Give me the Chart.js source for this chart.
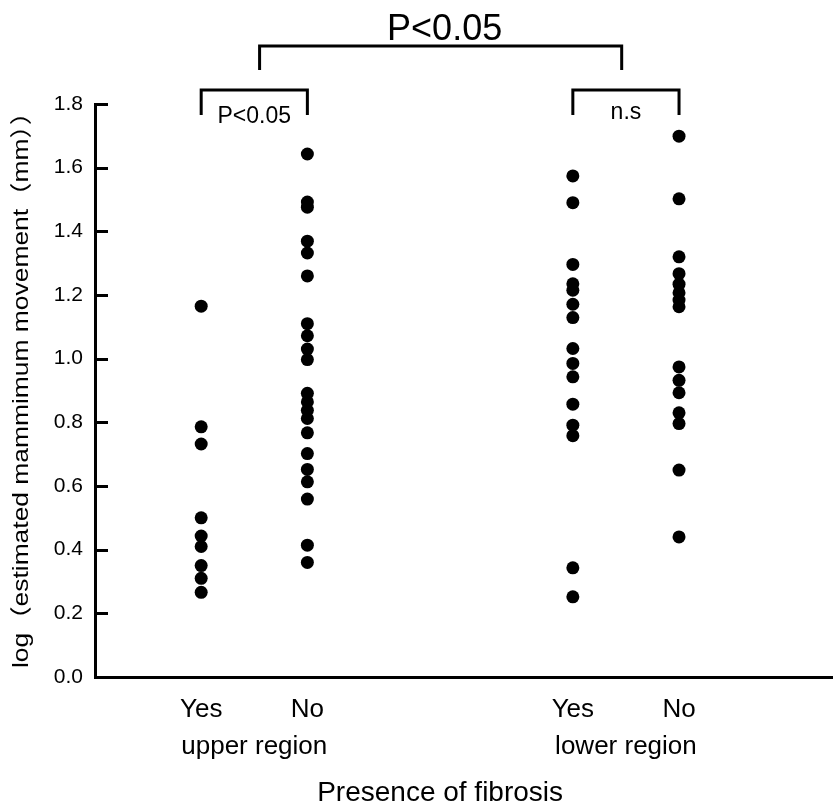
<!DOCTYPE html>
<html>
<head>
<meta charset="utf-8">
<title>Estimated maximum movement by fibrosis</title>
<script src="https://cdn.jsdelivr.net/npm/chart.js@4/dist/chart.umd.min.js"></script>
<style>
  html, body { margin: 0; padding: 0; background: #fff; overflow: hidden; }
  canvas { display: block; }
</style>
</head>
<body>
<canvas id="fibrosisChart" width="833" height="812"></canvas>
<script>
// Values (log of estimated maximum movement, mm)
const upperYes = [1.165, 0.786, 0.732, 0.50, 0.443, 0.41, 0.35, 0.31, 0.266];
const upperNo = [1.643, 1.492, 1.476, 1.369, 1.332, 1.26, 1.11, 1.072, 1.03, 0.997,
                 0.891, 0.864, 0.838, 0.812, 0.767, 0.702, 0.652, 0.613, 0.559, 0.414, 0.36];
const lowerYes = [1.574, 1.49, 1.296, 1.235, 1.215, 1.171, 1.129, 1.032, 0.985, 0.943,
                  0.857, 0.791, 0.758, 0.343, 0.252];
const lowerNo = [1.699, 1.502, 1.32, 1.267, 1.234, 1.207, 1.184, 1.163, 0.974, 0.932,
                 0.893, 0.83, 0.796, 0.65, 0.44];

// Where each group sits on the x axis, and the text under it
const groupPositions = [1, 2, 4.5, 5.5];
const groupLabels = ['Yes', 'No', 'Yes', 'No'];
const regionPositions = [1.5, 5];
const regionLabels = ['upper region', 'lower region'];

// y axis ticks
const yTicks = [0, 0.2, 0.4, 0.6, 0.8, 1.0, 1.2, 1.4, 1.6, 1.8];

// Significance brackets between groups (x values on the axis)
const comparisons = [
    { from: 1, to: 2, label: 'P<0.05', big: false },
    { from: 4.5, to: 5.5, label: 'n.s', big: false },
    { from: 1.55, to: 4.96, label: 'P<0.05', big: true }
];

const xTitle = 'Presence of fibrosis';
const yTitle = 'log（estimated mammimum movement（mm））';

const FONT = '"Liberation Sans", Arial, "Noto Sans CJK JP", sans-serif';

function toPoints(xValue, values) {
    return values.map(v => ({ x: xValue, y: v }));
}

const allSeries = [upperYes, upperNo, lowerYes, lowerNo];

// Inward tick marks on the y axis
const innerTicks = {
    id: 'innerTicks',
    afterDraw(chart) {
        const ctx = chart.ctx;
        const y = chart.scales.y;
        const left = chart.chartArea.left;
        ctx.save();
        ctx.strokeStyle = '#000';
        ctx.lineWidth = 3;
        yTicks.forEach(t => {
            const py = Math.round(y.getPixelForValue(t)) + 0.5;
            ctx.beginPath();
            ctx.moveTo(left, py);
            ctx.lineTo(left + 13, py);
            ctx.stroke();
        });
        ctx.restore();
    }
};

// Brackets with p-value labels, and both axis titles
const brackets = {
    id: 'brackets',
    afterDraw(chart) {
        const ctx = chart.ctx;
        const x = chart.scales.x;
        const y = chart.scales.y;
        const top = chart.chartArea.top;
        ctx.save();
        ctx.strokeStyle = '#000';
        ctx.fillStyle = '#000';
        ctx.lineWidth = 3;
        ctx.lineCap = 'butt';
        ctx.textAlign = 'center';
        ctx.textBaseline = 'middle';

        comparisons.forEach(c => {
            const x1 = x.getPixelForValue(c.from);
            const x2 = x.getPixelForValue(c.to);
            const barY = c.big ? top - 58 : top - 14;
            const legY = c.big ? top - 34 : top + 11;
            ctx.beginPath();
            ctx.moveTo(x1, legY);
            ctx.lineTo(x1, barY);
            ctx.lineTo(x2, barY);
            ctx.lineTo(x2, legY);
            ctx.stroke();

            if (c.big) {
                ctx.font = '36px ' + FONT;
                ctx.fillText(c.label, (x1 + x2) / 2 + 4, top - 74);
            }
            else {
                ctx.font = '23px ' + FONT;
                ctx.fillText(c.label, (x1 + x2) / 2, top + (c.label === 'n.s' ? 9 : 13));
            }
        });

        // x axis title, centred on the groups
        const mid = (groupPositions[0] + groupPositions[groupPositions.length - 1]) / 2;
        ctx.font = '28px ' + FONT;
        ctx.fillText(xTitle, x.getPixelForValue(mid), chart.height - 19);

        // y axis title, a little stretched along its length like the original
        ctx.translate(22, (y.top + y.bottom) / 2 - 7);
        ctx.rotate(-Math.PI / 2);
        ctx.scale(1.2, 1);
        ctx.font = '22px ' + FONT;
        ctx.fillText(yTitle, 0, 0);
        ctx.restore();
    }
};

const ctx = document.getElementById('fibrosisChart').getContext('2d');

new Chart(ctx, {
    type: 'scatter',
    data: {
        datasets: allSeries.map((values, i) => ({
            label: groupLabels[i],
            data: toPoints(groupPositions[i], values),
            pointRadius: 6.5,
            pointHoverRadius: 6.5,
            pointBackgroundColor: '#000',
            pointBorderWidth: 0,
            borderColor: '#000'
        }))
    },
    options: {
        responsive: false,
        animation: false,
        devicePixelRatio: 1,
        layout: {
            autoPadding: false,
            padding: { top: 104, left: 0, right: 0, bottom: 0 }
        },
        plugins: {
            legend: { display: false },
            tooltip: { enabled: false }
        },
        scales: {
            x: {
                type: 'linear',
                min: 0,
                max: 6.95,
                afterBuildTicks(scale) {
                    const ticks = groupPositions.concat(regionPositions).map(v => ({ value: v }));
                    ticks.sort((a, b) => a.value - b.value);
                    scale.ticks = ticks;
                },
                afterFit(scale) {
                    scale.height = 135;
                    scale.paddingLeft = 0;
                    scale.paddingRight = 0;
                },
                ticks: {
                    autoSkip: false,
                    maxRotation: 0,
                    minRotation: 0,
                    padding: 14,
                    color: '#000',
                    font: { family: FONT, size: 26, lineHeight: 1.42 },
                    callback(value) {
                        const g = groupPositions.indexOf(value);
                        if (g >= 0) {
                            return groupLabels[g];
                        }
                        const r = regionPositions.indexOf(value);
                        if (r >= 0) {
                            return ['', regionLabels[r]];
                        }
                        return '';
                    }
                },
                grid: { display: false, drawTicks: false },
                border: { display: true, color: '#000', width: 3 }
            },
            y: {
                min: 0,
                max: 1.8,
                afterBuildTicks(scale) {
                    scale.ticks = yTicks.map(v => ({ value: v }));
                },
                afterFit(scale) {
                    scale.width = 95;
                    scale.paddingTop = 0;
                    scale.paddingBottom = 0;
                },
                ticks: {
                    padding: 12,
                    color: '#000',
                    font: { family: FONT, size: 21 },
                    callback: value => value.toFixed(1)
                },
                grid: { display: false, drawTicks: false },
                border: { display: true, color: '#000', width: 3 }
            }
        }
    },
    plugins: [innerTicks, brackets]
});
</script>
</body>
</html>
